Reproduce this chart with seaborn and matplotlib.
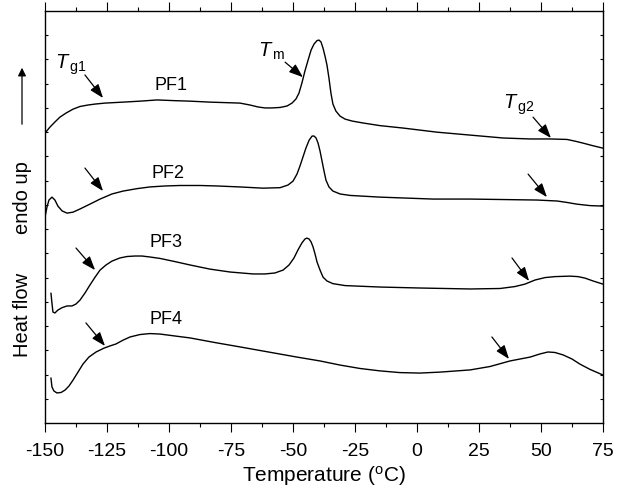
import numpy as np
import matplotlib
matplotlib.use("Agg")
import matplotlib.pyplot as plt
import seaborn as sns

# === data (temperature in degC, heat flow in arb. units, shifted) ===
t_pf1 = [-150.0, -148.0, -146.0, -144.0, -141.5, -138.7, -135.9, -132.7, -129.8, -125.8,
         -118.5, -111.7, -104.8, -97.6, -91.5, -83.5, -77.4, -71.4, -67.3, -64.1,
         -61.3, -58.5, -55.2, -52.4, -50.4, -48.8, -47.6, -46.4, -45.2, -43.9,
         -42.7, -41.5, -40.3, -39.5, -38.7, -37.9, -37.1, -36.3, -35.5, -34.7,
         -33.9, -32.7, -31.0, -29.0, -26.2, -21.8, -14.9, -5.6, 8.1, 21.4,
         34.7, 45.6, 53.6, 60.5, 63.7, 66.9, 70.6, 75.0]
hf_pf1 = [11.96, 12.21, 12.42, 12.62, 12.79, 12.95, 13.06, 13.12, 13.16, 13.20,
          13.24, 13.28, 13.33, 13.30, 13.28, 13.24, 13.22, 13.20, 13.12, 13.04,
          13.00, 13.00, 13.02, 13.08, 13.20, 13.37, 13.61, 14.03, 14.52, 14.98,
          15.39, 15.64, 15.78, 15.80, 15.72, 15.47, 15.14, 14.77, 14.23, 13.61,
          13.16, 12.87, 12.66, 12.54, 12.46, 12.38, 12.27, 12.17, 12.00, 11.88,
          11.76, 11.72, 11.72, 11.70, 11.63, 11.55, 11.45, 11.34]

t_pf2 = [-150.0, -149.2, -148.4, -147.2, -146.0, -144.8, -143.1, -141.1, -138.7, -135.9,
         -131.9, -127.8, -123.0, -118.5, -112.9, -107.7, -101.6, -95.6, -87.5, -80.6,
         -71.4, -62.1, -55.2, -52.0, -50.0, -48.4, -47.2, -46.0, -44.8, -43.5,
         -42.3, -41.5, -40.7, -39.9, -39.1, -38.3, -37.5, -36.7, -35.5, -33.9,
         -31.0, -27.0, -14.9, 6.5, 21.4, 48.4, 56.5, 60.5, 64.5, 69.8, 75.0]
hf_pf2 = [8.50, 8.91, 9.20, 9.32, 9.20, 8.95, 8.75, 8.66, 8.70, 8.83,
          9.03, 9.24, 9.45, 9.57, 9.67, 9.74, 9.78, 9.80, 9.80, 9.78,
          9.74, 9.69, 9.71, 9.82, 9.98, 10.27, 10.60, 10.97, 11.34, 11.67,
          11.84, 11.84, 11.76, 11.55, 11.22, 10.81, 10.40, 10.02, 9.74, 9.57,
          9.45, 9.39, 9.32, 9.24, 9.24, 9.20, 9.16, 9.10, 9.03, 8.97, 8.95]

t_pf3 = [-147.6, -147.2, -146.8, -146.0, -144.8, -143.1, -141.1, -139.1, -137.5, -135.9,
         -133.9, -131.9, -129.8, -127.8, -125.4, -123.0, -119.8, -116.9, -113.7, -110.9,
         -107.7, -103.6, -97.6, -91.5, -83.5, -75.4, -66.1, -61.3, -57.3, -54.0,
         -51.6, -49.6, -48.0, -46.4, -45.2, -44.4, -43.5, -42.7, -41.9, -41.1,
         -40.3, -39.1, -37.9, -36.3, -33.9, -29.0, -14.9, 1.2, 21.4, 33.5,
         39.5, 43.5, 47.6, 51.6, 55.6, 61.7, 64.9, 67.7, 71.0, 75.0]
hf_pf3 = [5.36, 4.95, 4.58, 4.54, 4.66, 4.76, 4.83, 4.83, 4.91, 5.07,
          5.36, 5.69, 6.02, 6.31, 6.52, 6.68, 6.81, 6.87, 6.89, 6.89,
          6.85, 6.79, 6.66, 6.52, 6.35, 6.23, 6.15, 6.15, 6.19, 6.31,
          6.52, 6.81, 7.14, 7.43, 7.59, 7.63, 7.59, 7.47, 7.26, 6.97,
          6.64, 6.31, 6.02, 5.86, 5.75, 5.67, 5.61, 5.57, 5.53, 5.55,
          5.63, 5.73, 5.90, 6.00, 6.04, 6.06, 6.04, 5.98, 5.86, 5.73]

t_pf4 = [-147.6, -147.2, -146.4, -145.2, -143.5, -141.9, -140.3, -138.7, -136.7, -134.7,
         -132.3, -129.4, -126.2, -123.8, -121.4, -118.5, -115.7, -111.7, -107.7, -103.6,
         -97.6, -91.5, -81.5, -71.4, -62.1, -48.4, -39.1, -31.0, -23.0, -14.9,
         -6.9, 1.2, 9.3, 21.4, 29.4, 37.5, 45.6, 49.6, 52.8, 55.6,
         58.9, 62.5, 65.7, 69.8, 75.0]
hf_pf4 = [1.86, 1.49, 1.32, 1.24, 1.26, 1.36, 1.53, 1.77, 2.10, 2.43,
          2.72, 2.93, 3.09, 3.18, 3.26, 3.42, 3.55, 3.65, 3.69, 3.67,
          3.59, 3.51, 3.32, 3.14, 2.97, 2.72, 2.56, 2.39, 2.25, 2.15,
          2.08, 2.06, 2.10, 2.19, 2.33, 2.56, 2.72, 2.85, 2.93, 2.91,
          2.81, 2.64, 2.43, 2.21, 1.98]

sample_names = ["PF1", "PF2", "PF3", "PF4"]
name_x = [-99.2, -100.4, -101.2, -101.2]
name_y = [13.94, 10.31, 7.43, 4.25]

# arrows: (tail T, tail y) -> (head T, head y)
arrow_tail_t = [-133.9, -53.2, 46.8, -133.9, 44.8, -137.5, 38.3, -133.5, 30.2]
arrow_tail_y = [14.36, 14.89, 12.62, 10.52, 10.27, 7.22, 6.81, 4.13, 3.55]
arrow_head_t = [-126.6, -46.0, 54.0, -126.6, 52.4, -129.8, 45.2, -125.8, 37.1]
arrow_head_y = [13.41, 14.27, 11.76, 9.57, 9.32, 6.31, 5.86, 3.18, 2.64]

# transition labels: T with subscript
trans_labels = [r"$\mathit{T}_{\,\rm g1}$", r"$\mathit{T}_{\,\rm m}$", r"$\mathit{T}_{\,\rm g2}$"]
trans_t = [-139.8, -58.6, 40.8]
trans_y = [14.80, 15.35, 13.12]

x_ticks = [-150, -125, -100, -75, -50, -25, 0, 25, 50, 75]

# === style ===
sns.set_style("ticks")
plt.rcParams['font.family'] = ['Liberation Sans', 'DejaVu Sans']
plt.rcParams['axes.unicode_minus'] = False
plt.rcParams['mathtext.fontset'] = 'custom'
plt.rcParams['mathtext.rm'] = 'Liberation Sans'
plt.rcParams['mathtext.it'] = 'Liberation Sans:italic'
plt.rcParams['text.color'] = 'black'
plt.rcParams['axes.labelcolor'] = 'black'
plt.rcParams['axes.edgecolor'] = 'black'
plt.rcParams['xtick.color'] = 'black'
plt.rcParams['ytick.color'] = 'black'

fig = plt.figure(figsize=(6.17, 4.87), dpi=100)
ax = fig.add_axes([45 / 617, 64 / 487, 558 / 617, 412 / 487])

for t, hf in [(t_pf1, hf_pf1), (t_pf2, hf_pf2), (t_pf3, hf_pf3), (t_pf4, hf_pf4)]:
    sns.lineplot(x=t, y=hf, ax=ax, color='black', lw=1.0, sort=False, estimator=None)

for name, x, y in zip(sample_names, name_x, name_y):
    ax.text(x, y, name, fontsize=13, ha='center', va='center')

for tx, ty, hx, hy in zip(arrow_tail_t, arrow_tail_y, arrow_head_t, arrow_head_y):
    ax.annotate("", xy=(hx, hy), xytext=(tx, ty),
                arrowprops=dict(arrowstyle='-|>,head_length=0.6,head_width=0.22',
                                color='black', lw=0.9,
                                mutation_scale=14, shrinkA=0, shrinkB=0))

for lab, x, y in zip(trans_labels, trans_t, trans_y):
    ax.text(x, y, lab, fontsize=14.5, ha='center', va='center')

ax.set_xlim(-150, 75)
ax.set_ylim(0, 17)
ax.set_xticks(x_ticks)
ax.set_xticks(np.arange(-137.5, 75, 25), minor=True)
ax.set_yticks(np.arange(1, 17))
ax.set_yticklabels([])
ax.tick_params(axis='x', which='major', direction='out', length=6.5, width=0.8,
               labelsize=14, pad=8)
ax.tick_params(axis='x', which='minor', direction='out', length=3, width=0.8)
ax.tick_params(axis='y', which='both', direction='in', length=2.5, width=0.8,
               left=True, right=True)
ax.tick_params(axis='x', which='both', top=True)
for s in ax.spines.values():
    s.set_linewidth(1.0)
    s.set_visible(True)

ax.set_xlabel(r"Temperature ($^{\rm o}$C)", fontsize=15, labelpad=3)
ax.set_ylabel("")

# y label built from pieces: arrow, "endo up", "Heat flow"
fig.text(22 / 617, 1 - 315 / 487, "Heat flow", rotation=90, fontsize=14.5,
         ha='center', va='center')
fig.text(22 / 617, 1 - 198 / 487, "endo up", rotation=90, fontsize=14.5,
         ha='center', va='center')
fig.patches.append(matplotlib.patches.FancyArrowPatch(
    (22 / 617, 1 - 127 / 487), (22 / 617, 1 - 65 / 487), transform=fig.transFigure,
    arrowstyle='-|>', mutation_scale=12, color='black', lw=0.9))

fig.savefig("out.png", dpi=100)
